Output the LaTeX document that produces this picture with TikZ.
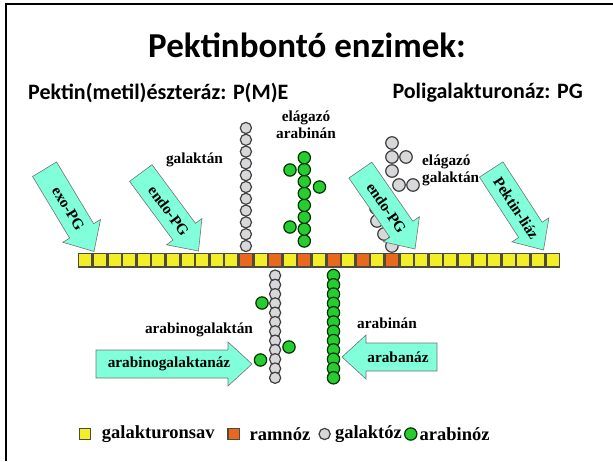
\documentclass[tikz,border=0pt]{standalone}
\usepackage{fontspec}
\setmainfont{Liberation Serif}
\newfontfamily\calibri{Carlito}
\usetikzlibrary{positioning}

\definecolor{sav}{RGB}{242,238,40}
\definecolor{ramn}{RGB}{232,104,30}
\definecolor{galk}{RGB}{216,216,218}
\definecolor{arab}{RGB}{38,204,48}
\definecolor{enzim}{RGB}{128,255,218}

\tikzset{
  savbox/.style={draw=black!80!yellow,line width=1.3pt,fill=sav,
    minimum width=13.3pt,minimum height=13.7pt,inner sep=0pt,outer sep=0pt},
  ramnbox/.style={savbox,fill=ramn},
  galk/.style={circle,draw=black!75,line width=1.2pt,fill=galk,
    minimum size=11.2pt,inner sep=0pt},
  arab/.style={circle,draw=green!20!black,line width=1.2pt,fill=arab,
    minimum size=12.3pt,inner sep=0pt},
  lbl/.style={font=\fontsize{15.3}{17}\selectfont\bfseries,inner sep=1pt},
  legtxt/.style={font=\fontsize{18.5}{20}\selectfont\bfseries,inner sep=0pt},
  hdr/.style={font=\calibri\bfseries\fontsize{22}{26}\selectfont,inner sep=0pt},
  enzfill/.style={draw=black!55,line width=0.6pt,fill=enzim},
  pics/enzarrow/.style n args={4}{code={
    \draw[enzfill] (0,0) -- (-24,22) -- (-24,14) -- (-#1,14) -- (-#1,-14)
      -- (-24,-14) -- (-24,-22) -- cycle;
    \node[lbl,rotate=#3] (-lbl) at (-#2,0) {#4};
  }}
}

\begin{document}
\begin{tikzpicture}[x=1pt,y=-1pt]
 \useasboundingbox (0,0) rectangle (613,461);
 \draw[line width=2pt] (6,461) -- (6,4) -- (613,4);

 % titles
 \node[font=\calibri\bfseries\fontsize{35}{40}\selectfont] (title) at (307,45) {Pektinbontó enzimek:};
 \node[hdr,anchor=west] (pme) at (28,93) {Pektin(metil)észteráz: P(M)E};
 \node[hdr,anchor=east] (pg) at (583,93) {Poligalakturonáz: PG};

 % side chains above the backbone
 \foreach \k in {0,...,10}
  \node[galk] (gt\k) at (245.9,{246-11.8*\k}) {};
 \foreach \k in {0,...,7}
  \node[arab] (ea\k) at (304.3,{241-11.9*\k}) {};
 \node[arab] (eab1) at (290,170) {};
 \node[arab] (eab2) at (319.5,187) {};
 \node[arab] (eab3) at (290,227) {};
 \foreach \p [count=\n] in {(391.9,246),(384,234),(377,221),(376,208),(384,196),
   (399,185),(413,185),(392,171),(392,157),(406,157),(392,143)}
  \node[galk,minimum size=12.5pt] (eg\n) at \p {};

 % side chains below the backbone
 \foreach \k in {0,...,11}
  \node[galk] (ag\k) at (275.1,{275.5+9.3*\k}) {};
 \node[arab] (agb1) at (262,303) {};
 \node[arab] (agb2) at (289,347) {};
 \node[arab] (agb3) at (260.5,360) {};
 \foreach \k in {0,...,11}
  \node[arab] (ab\k) at (333.5,{275.5+9.3*\k}) {};

 % backbone
 \foreach \i in {0,...,32}{
  \pgfmathtruncatemacro\isram{and(\i>10,\i<22)*isodd(\i)}
  \ifnum\isram=1
   \node[ramnbox] (c\i) at ({85.3+14.6*\i},260) {};
  \else
   \node[savbox] (c\i) at ({85.3+14.6*\i},260) {};
  \fi
 }

 % labels
 \node[lbl] (galaktan) at (194.5,160) {galaktán};
 \node[lbl,align=center] (elarab) at (306,125) {elágazó\\arabinán};
 \node[lbl,align=left,anchor=west] (elgal) at (421,170) {elágazó\\galaktán};
 \node[lbl] (arabgal) at (199,330) {arabinogalaktán};
 \node[lbl] (arabinan) at (387,323) {arabinán};

 % enzymes
 \pic[rotate=-59] (exo) at (94,251.5) {enzarrow={96}{50}{-59}{exo-PG}};
 \pic[rotate=-53.5] (endoa) at (198.5,251) {enzarrow={97}{50}{-53.5}{endo-PG}};
 \pic[rotate=-55.3] (endob) at (415,249) {enzarrow={96}{50}{-55.3}{endo-PG}};
 \pic[rotate=-57] (liaz) at (543.5,250) {enzarrow={96}{50}{-57}{Pektin-liáz}};
 \pic (agaz) at (252,364) {enzarrow={156}{83}{0}{arabinogalaktanáz}};
 \pic[rotate=180] (araz) at (342,357) {enzarrow={95}{56}{0}{arabanáz}};

 % legend
 \node[savbox,minimum width=11.5pt,minimum height=11.5pt] (lsav) at (85,434) {};
 \node[legtxt,right=11pt of lsav] (tsav) {galakturonsav};
 \node[ramnbox,minimum width=11.5pt,minimum height=11.5pt,right=13pt of tsav] (lramn) {};
 \node[legtxt,right=10pt of lramn] (tramn) {ramnóz};
 \node[galk,right=8pt of tramn] (lgalk) {};
 \node[legtxt,right=4pt of lgalk] (tgalk) {galaktóz};
 \node[arab,right=2pt of tgalk] (larab) {};
 \node[legtxt,right=2pt of larab] (tarab) {arabinóz};
\end{tikzpicture}
\end{document}
